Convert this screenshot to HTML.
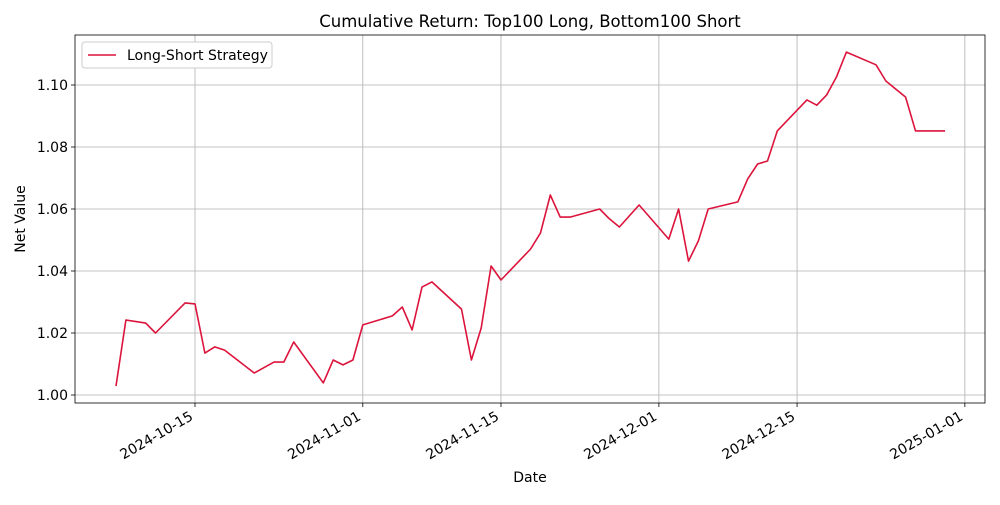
<!DOCTYPE html>
<html><head><meta charset="utf-8"><style>
body{margin:0;background:#fff;font-family:"Liberation Sans","DejaVu Sans",sans-serif}
svg text{font-family:"DejaVu Sans","Liberation Sans",sans-serif}
</style></head><body>
<svg id="chart" width="1000" height="500" xmlns="http://www.w3.org/2000/svg"></svg>
<script>
const dates=["2024-10-07","2024-10-08","2024-10-10","2024-10-11","2024-10-14","2024-10-15","2024-10-16","2024-10-17","2024-10-18","2024-10-21","2024-10-23","2024-10-24","2024-10-25","2024-10-28","2024-10-29","2024-10-30","2024-10-31","2024-11-01","2024-11-04","2024-11-05","2024-11-06","2024-11-07","2024-11-08","2024-11-11","2024-11-12","2024-11-13","2024-11-14","2024-11-15","2024-11-18","2024-11-19","2024-11-20","2024-11-21","2024-11-22","2024-11-25","2024-11-26","2024-11-27","2024-11-29","2024-12-02","2024-12-03","2024-12-04","2024-12-05","2024-12-06","2024-12-09","2024-12-10","2024-12-11","2024-12-12","2024-12-13","2024-12-16","2024-12-17","2024-12-18","2024-12-19","2024-12-20","2024-12-23","2024-12-24","2024-12-26","2024-12-27","2024-12-30"];
const values=[1.0029,1.0242,1.0232,1.0200,1.0297,1.0294,1.0135,1.0155,1.0145,1.0071,1.0106,1.0106,1.0171,1.0039,1.0113,1.0097,1.0113,1.0226,1.0255,1.0284,1.0210,1.0348,1.0365,1.0277,1.0113,1.0216,1.0416,1.0371,1.0471,1.0523,1.0645,1.0574,1.0574,1.0600,1.0568,1.0542,1.0613,1.0503,1.0600,1.0432,1.0497,1.0600,1.0623,1.0697,1.0745,1.0755,1.0852,1.0952,1.0935,1.0968,1.1026,1.1106,1.1065,1.1013,1.0961,1.0852,1.0852];
const yTicks=[1.00,1.02,1.04,1.06,1.08,1.10];
const xTicks=["2024-10-15","2024-11-01","2024-11-15","2024-12-01","2024-12-15","2025-01-01"];
const L=75,R=985,T=35,B=403;
const day=s=>Date.UTC(+s.slice(0,4),+s.slice(5,7)-1,+s.slice(8,10))/864e5;
const d0=day("2024-10-15");
const xS=s=>195+(day(s)-d0)*9.87;
const yS=v=>395-(v-1.0)*3100;
const svg=document.getElementById('chart');
const NS="http://www.w3.org/2000/svg";
function mk(tag,attrs,parent){const e=document.createElementNS(NS,tag);for(const k in attrs)e.setAttribute(k,attrs[k]);(parent||svg).appendChild(e);return e;}
yTicks.forEach(v=>{const y=yS(v);
 const g=mk('line',{x1:L,x2:R,y1:y,y2:y,stroke:'#b0b0b0','stroke-width':0.8});
 
 
 mk('line',{x1:L-4,x2:L,y1:y,y2:y,stroke:'#000','stroke-width':0.8});
 const t=mk('text',{x:L-7,y:y+5,'text-anchor':'end','font-size':14});t.textContent=v.toFixed(2);
 
 
});
xTicks.forEach(s=>{const x=xS(s);
 const g=mk('line',{x1:x,x2:x,y1:T,y2:B,stroke:'#b0b0b0','stroke-width':0.8});
 
 
 mk('line',{x1:x,x2:x,y1:B,y2:B+4,stroke:'#000','stroke-width':0.8});
 const ax=x-1, ay=B+16;
 const t=mk('text',{x:ax,y:ay,'text-anchor':'end','font-size':14,transform:`rotate(-30 ${ax} ${ay})`});t.textContent=s;
 
 
});
const pts=dates.map((d,i)=>xS(d).toFixed(1)+','+yS(values[i]).toFixed(1)).join(' ');
const pl=mk('polyline',{points:pts,fill:'none',stroke:'#dc143c','stroke-width':1.6,'stroke-linejoin':'round'});


const fr=mk('rect',{x:L,y:T,width:R-L,height:B-T,fill:'none',stroke:'#000','stroke-width':0.8});


const tt=mk('text',{x:530,y:27,'text-anchor':'middle','font-size':16.5});tt.textContent="Cumulative Return: Top100 Long, Bottom100 Short";


const xt=mk('text',{x:530,y:482,'text-anchor':'middle','font-size':14});xt.textContent="Date";


const yt=mk('text',{x:25,y:219,'text-anchor':'middle','font-size':14,transform:'rotate(-90 25 219)'});yt.textContent="Net Value";


const lg=mk('g',{});


mk('rect',{x:82,y:42,width:190,height:26,rx:3,fill:'#fff',stroke:'#ccc','stroke-width':1},lg);
mk('line',{x1:88,x2:116,y1:55,y2:55,stroke:'#dc143c','stroke-width':1.6},lg);
const lt=mk('text',{x:127,y:60,'font-size':14},lg);lt.textContent="Long-Short Strategy";


</script>
</body></html>
